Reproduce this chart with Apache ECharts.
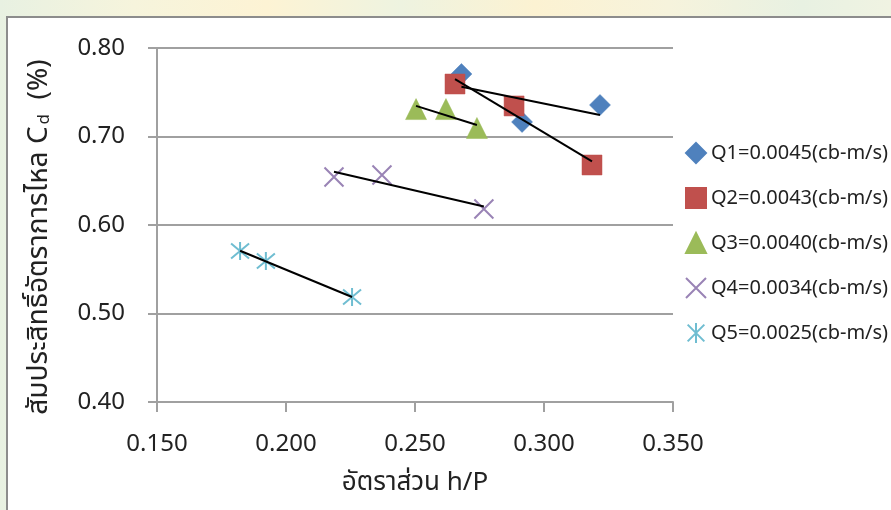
<!DOCTYPE html>
<html>
<head>
<meta charset="utf-8">
<script src="https://cdn.jsdelivr.net/npm/echarts@6/dist/echarts.min.js"></script>
<style>
  html, body { margin: 0; padding: 0; width: 891px; height: 510px; overflow: hidden;
    background: linear-gradient(90deg, #e8f1e2 0%, #f6f4dc 15%, #fdf3d4 30%, #eef3e0 45%, #fcf2d2 60%, #f6f3dc 75%, #e8f1e2 90%, #f0f3e2 100%); }
  #frame { position: absolute; left: 6px; top: 16px; width: 900px; height: 520px; background: #fff; border: 2px solid #8c8c8c; box-sizing: border-box; }
  #chart { position: absolute; left: 0; top: 0; width: 891px; height: 510px; }
</style>
</head>
<body>
<div id="frame"></div>
<div id="chart"></div>
<script>
// ---- data ----
const seriesNames = [
  'Q1=0.0045(cb-m/s)',
  'Q2=0.0043(cb-m/s)',
  'Q3=0.0040(cb-m/s)',
  'Q4=0.0034(cb-m/s)',
  'Q5=0.0025(cb-m/s)'
];
const q1X = [0.268, 0.2915, 0.3217];
const q1Y = [0.7706, 0.7164, 0.7356];
const q2X = [0.2655, 0.2884, 0.3186];
const q2Y = [0.7593, 0.7345, 0.6678];
const q3X = [0.2504, 0.2620, 0.2740];
const q3Y = [0.7310, 0.7310, 0.7096];
const q4X = [0.2186, 0.2372, 0.2767];
const q4Y = [0.6542, 0.6565, 0.6181];
const q5X = [0.1822, 0.1922, 0.2256];
const q5Y = [0.5706, 0.5593, 0.5186];
const xTicks = [0.150, 0.200, 0.250, 0.300, 0.350];
const yTicks = [0.40, 0.50, 0.60, 0.70, 0.80];

// ---- styling ----
const colors = ['#4F81BD', '#C0504D', '#9BBB59', '#8064A2', '#4BACC6'];
const symbols = [
  'diamond',
  'rect',
  'triangle',
  'path://M0,0L10,10M10,0L0,10',
  'path://M0,0L10,10M10,0L0,10M5,-1L5,11'
];
const symbolSizes = [21, 20, 21, 19, 18];
const FONT = '"Noto Sans", "Noto Sans Thai", "Noto Sans Thai UI", Loma, Garuda, sans-serif';

const xs = [q1X, q2X, q3X, q4X, q5X];
const ys = [q1Y, q2Y, q3Y, q4Y, q5Y];

function pairs(x, y) { return x.map((v, i) => [v, y[i]]); }
function trend(x, y) {
  const n = x.length;
  const mx = x.reduce((a, b) => a + b, 0) / n;
  const my = y.reduce((a, b) => a + b, 0) / n;
  let sxy = 0, sxx = 0;
  for (let i = 0; i < n; i++) { sxy += (x[i] - mx) * (y[i] - my); sxx += (x[i] - mx) * (x[i] - mx); }
  const b = sxy / sxx, a = my - b * mx;
  const x0 = Math.min(...x), x1 = Math.max(...x);
  return [[x0, a + b * x0], [x1, a + b * x1]];
}

const series = [];
for (let i = 0; i < 5; i++) {
  const isLine = i >= 3;
  series.push({
    name: seriesNames[i],
    type: 'scatter',
    data: pairs(xs[i], ys[i]),
    symbol: symbols[i],
    symbolSize: symbolSizes[i],
    itemStyle: isLine
      ? { color: 'rgba(0,0,0,0)', borderColor: colors[i], borderWidth: 2 }
      : { color: colors[i], borderColor: colors[i], borderWidth: 0.5, opacity: 1 },
    z: 3
  });
}
for (let i = 0; i < 5; i++) {
  series.push({
    name: 'trend' + i,
    type: 'line',
    data: trend(xs[i], ys[i]),
    showSymbol: false,
    symbol: 'none',
    silent: true,
    lineStyle: { color: '#000', width: 2 },
    z: 4
  });
}

const chart = echarts.init(document.getElementById('chart'), null, { renderer: 'canvas' });
chart.setOption({
  animation: false,
  backgroundColor: 'transparent',
  textStyle: { fontFamily: FONT },
  grid: { left: 157, right: 218, top: 48, bottom: 108, containLabel: false },
  legend: {
    data: seriesNames,
    orient: 'vertical',
    left: 680,
    top: 137,
    itemWidth: 20,
    itemHeight: 20,
    itemGap: 23,
    textStyle: { fontSize: 20, color: '#222', fontFamily: FONT }
  },
  xAxis: {
    type: 'value',
    min: xTicks[0],
    max: xTicks[xTicks.length - 1],
    interval: 0.05,
    name: 'อัตราส่วน h/P',
    nameLocation: 'middle',
    nameGap: 68,
    nameTextStyle: { fontSize: 26, color: '#222', fontFamily: FONT },
    axisLine: { show: true, lineStyle: { color: '#a0a0a0', width: 2 } },
    axisTick: { show: true, inside: false, length: 10, lineStyle: { color: '#a0a0a0', width: 2 } },
    axisLabel: { margin: 30, fontSize: 24, color: '#222', fontFamily: FONT,
      formatter: v => v.toFixed(3) },
    splitLine: { show: false }
  },
  yAxis: {
    type: 'value',
    min: yTicks[0],
    max: yTicks[yTicks.length - 1],
    interval: 0.1,
    name: 'สัมประสิทธิ์อัตราการไหล C{sub|d}  (%)',
    nameLocation: 'middle',
    nameRotate: 90,
    nameGap: 104,
    nameTextStyle: { fontSize: 28, color: '#222', fontFamily: FONT, padding: [0, 24, 0, 0],
      rich: { sub: { fontSize: 17, color: '#222', fontFamily: FONT, verticalAlign: 'bottom', padding: [10, 0, 0, 2] } } },
    axisLine: { show: true, lineStyle: { color: '#a0a0a0', width: 2 } },
    axisTick: { show: true, inside: false, length: 9, lineStyle: { color: '#a0a0a0', width: 2 } },
    axisLabel: { margin: 32, fontSize: 24, color: '#222', fontFamily: FONT,
      formatter: v => v.toFixed(2) },
    splitLine: { show: true, lineStyle: { color: '#a0a0a0', width: 2 } }
  },
  series: series
});
</script>
</body>
</html>
